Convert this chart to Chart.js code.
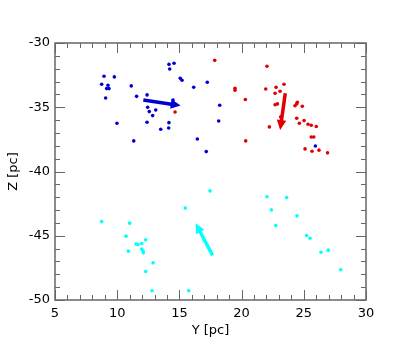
<!DOCTYPE html>
<html>
<head>
<meta charset="utf-8">
<script src="https://cdn.jsdelivr.net/npm/chart.js@4"></script>
<style>
  html, body { margin: 0; padding: 0; background: #fff; }
  #wrap { width: 395px; height: 351px; }
</style>
</head>
<body>
<div id="wrap"><canvas id="chart" width="395" height="351"></canvas></div>
<script>
// Blue group (Y, Z)
const blueY = [8.94, 9.77, 8.75, 9.26, 9.15, 9.34, 9.07, 11.13, 11.56, 12.4, 12.45, 13.1, 12.58, 12.85, 9.98, 12.4, 14.16, 13.5, 14.14, 11.33, 14.16, 14.57, 14.22, 15.07, 15.21, 16.15, 17.24, 14.49, 18.24, 18.16, 16.44, 17.16, 25.93];
const blueZ = [-32.59, -32.64, -33.21, -33.29, -33.55, -33.55, -34.28, -33.34, -34.15, -34.04, -35.0, -35.21, -35.34, -35.65, -36.25, -36.17, -36.2, -36.71, -36.61, -37.62, -31.66, -31.58, -32.02, -32.74, -32.9, -33.44, -33.06, -34.43, -34.85, -36.07, -37.47, -38.45, -38.01];

// Red group
const redY = [17.84, 14.65, 22.04, 19.47, 19.47, 20.3, 21.94, 22.77, 23.09, 22.69, 23.41, 22.69, 22.88, 24.48, 24.43, 24.29, 24.88, 23.14, 24.43, 24.64, 25.02, 25.34, 25.6, 26.0, 22.23, 25.6, 25.8, 20.33, 25.1, 25.66, 26.22, 26.91];
const redZ = [-31.35, -35.37, -31.81, -33.52, -33.68, -34.4, -33.58, -33.45, -33.76, -33.91, -33.21, -34.8, -34.74, -34.61, -34.74, -34.88, -34.92, -35.75, -35.86, -36.25, -36.04, -36.32, -36.4, -36.5, -36.53, -37.31, -37.31, -37.62, -38.24, -38.42, -38.34, -38.55];

// Cyan group
const cyanY = [8.75, 11.0, 10.71, 12.29, 11.51, 11.67, 11.97, 11.97, 12.07, 12.1, 10.9, 12.88, 12.29, 12.8, 15.75, 15.47, 17.46, 22.04, 23.62, 22.39, 24.45, 22.74, 25.23, 25.5, 26.38, 26.97, 27.97];
const cyanZ = [-43.9, -44.02, -45.03, -45.32, -45.65, -45.68, -45.6, -46.04, -46.17, -46.33, -46.2, -47.11, -47.78, -49.28, -49.28, -42.85, -41.51, -41.97, -42.03, -42.99, -43.45, -44.21, -44.98, -45.19, -46.28, -46.12, -47.65];

// Mean motion arrows: [fromY, fromZ, toY, toZ]
const blueArrow = [12.1, -34.43, 15.1, -34.87];
const redArrow = [23.51, -33.91, 23.1, -36.77];
const cyanArrow = [17.67, -46.54, 16.3, -44.02];

const xTicks = [5, 10, 15, 20, 25, 30];
const yTicks = [-50, -45, -40, -35, -30];

const BLUE = 'rgb(0,0,210)';
const RED = 'rgb(225,0,0)';
const CYAN = 'rgb(0,255,255)';
const FRAME = '#666';

function toPoints(xs, ys) {
    return xs.map((x, i) => ({ x: x, y: ys[i] }));
}

// Frame, inward ticks and arrows
const framePlugin = {
    id: 'frame',
    afterDatasetsDraw(chart) {
        const ctx = chart.ctx;
        const xs = chart.scales.x;
        const ys = chart.scales.y;
        const a = chart.chartArea;
        ctx.save();
        ctx.strokeStyle = FRAME;
        ctx.lineWidth = 1.5;
        ctx.strokeRect(a.left, a.top, a.right - a.left, a.bottom - a.top);

        ctx.lineWidth = 1;
        for (let v = xs.min; v <= xs.max; v++) {
            const px = Math.round(xs.getPixelForValue(v)) + 0.5;
            const len = (v % 5 === 0) ? 10 : 5;
            ctx.beginPath();
            ctx.moveTo(px, a.bottom); ctx.lineTo(px, a.bottom - len);
            ctx.moveTo(px, a.top); ctx.lineTo(px, a.top + len);
            ctx.stroke();
        }
        for (let v = ys.min; v <= ys.max; v++) {
            const py = Math.round(ys.getPixelForValue(v)) + 0.5;
            const len = (v % 5 === 0) ? 10 : 5;
            ctx.beginPath();
            ctx.moveTo(a.left, py); ctx.lineTo(a.left + len, py);
            ctx.moveTo(a.right, py); ctx.lineTo(a.right - len, py);
            ctx.stroke();
        }

        const drawArrow = (arr, color) => {
            const x1 = xs.getPixelForValue(arr[0]);
            const y1 = ys.getPixelForValue(arr[1]);
            const x2 = xs.getPixelForValue(arr[2]);
            const y2 = ys.getPixelForValue(arr[3]);
            const ang = Math.atan2(y2 - y1, x2 - x1);
            const head = 11;
            ctx.strokeStyle = color;
            ctx.fillStyle = color;
            ctx.lineWidth = 3.5;
            ctx.beginPath();
            ctx.moveTo(x1, y1);
            ctx.lineTo(x2 - Math.cos(ang) * 6, y2 - Math.sin(ang) * 6);
            ctx.stroke();
            ctx.beginPath();
            ctx.moveTo(x2, y2);
            ctx.lineTo(x2 - head * Math.cos(ang - 0.45), y2 - head * Math.sin(ang - 0.45));
            ctx.lineTo(x2 - head * Math.cos(ang + 0.45), y2 - head * Math.sin(ang + 0.45));
            ctx.closePath();
            ctx.fill();
        };
        drawArrow(blueArrow, BLUE);
        drawArrow(redArrow, RED);
        drawArrow(cyanArrow, CYAN);
        ctx.restore();
    }
};

document.addEventListener('DOMContentLoaded', () => {
    const ctx = document.getElementById('chart').getContext('2d');
    const font = { family: 'DejaVu Sans', size: 13 };

    new Chart(ctx, {
        type: 'scatter',
        data: {
            datasets: [
                { data: toPoints(blueY, blueZ), backgroundColor: BLUE, borderWidth: 0, pointRadius: 1.8 },
                { data: toPoints(redY, redZ), backgroundColor: RED, borderWidth: 0, pointRadius: 1.8 },
                { data: toPoints(cyanY, cyanZ), backgroundColor: CYAN, borderWidth: 0, pointRadius: 1.8 }
            ]
        },
        options: {
            responsive: false,
            animation: false,
            layout: { padding: { top: 43, right: 29, left: 6, bottom: 13 } },
            plugins: {
                legend: { display: false },
                tooltip: { enabled: false }
            },
            scales: {
                x: {
                    type: 'linear',
                    min: 5, max: 30,
                    afterBuildTicks: s => { s.ticks = xTicks.map(v => ({ value: v })); },
                    afterFit: s => { s.height = 38; },
                    grid: { display: false, drawTicks: false },
                    border: { display: false },
                    ticks: { color: '#000', font: font, padding: 6, maxRotation: 0 },
                    title: { display: true, text: 'Y [pc]', color: '#000', font: font, padding: { top: 0, bottom: 0 } }
                },
                y: {
                    type: 'linear',
                    min: -50, max: -30,
                    afterBuildTicks: s => { s.ticks = yTicks.map(v => ({ value: v })); },
                    afterFit: s => { s.width = 49; },
                    grid: { display: false, drawTicks: false },
                    border: { display: false },
                    ticks: { color: '#000', font: font, padding: 5 },
                    title: { display: true, text: 'Z [pc]', color: '#000', font: font, padding: { top: 0, bottom: 0 } }
                }
            }
        },
        plugins: [framePlugin]
    });
});
</script>
</body>
</html>
